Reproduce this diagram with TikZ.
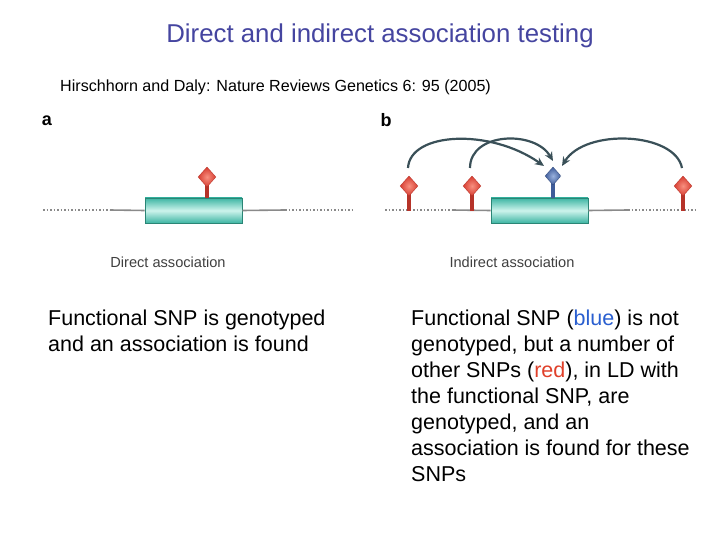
\documentclass[tikz,border=0pt]{standalone}
\usepackage{fontspec}
\setmainfont{Liberation Sans}
\usetikzlibrary{shapes.geometric,arrows.meta}
\definecolor{titleblue}{HTML}{4545A0}
\definecolor{snpred}{HTML}{D63C30}
\definecolor{snpredin}{HTML}{F89080}
\definecolor{snpblue}{HTML}{3F5C9A}
\definecolor{snpbluein}{HTML}{9AB2DE}
\definecolor{genetop}{HTML}{3DB5A3}
\definecolor{genemid}{HTML}{CDF3EC}
\definecolor{geneedge}{HTML}{2A8575}
\definecolor{arcol}{HTML}{3A5058}
\definecolor{linegray}{HTML}{8A8A8A}
\definecolor{txtblue}{HTML}{2A5FD0}
\definecolor{txtred}{HTML}{E0402A}
\tikzset{
  genebox/.style={draw=geneedge, line width=0.8pt, minimum width=97pt, minimum height=25pt, inner sep=0pt,
    top color=genetop, bottom color=genetop, middle color=genemid},
  reddia/.style={diamond, inner sep=0pt, minimum width=18pt, minimum height=20pt, draw=snpred!85!black, line width=0.3pt,
    inner color=snpredin, outer color=snpred},
  bluedia/.style={diamond, inner sep=0pt, minimum width=16pt, minimum height=18pt, draw=snpblue!80!black, line width=0.3pt,
    inner color=snpbluein, outer color=snpblue},
  redstem/.style={draw=snpred!85!black, line width=4pt},
  bluestem/.style={draw=snpblue, line width=4pt},
  dotline/.style={draw=linegray, line width=1.2pt, dash pattern=on 1.5pt off 2pt},
  solidline/.style={draw=linegray, line width=1.6pt},
  ldarrow/.style={draw=arcol, line width=2.2pt, -{Stealth[length=9pt,width=8pt]}},
  capt/.style={font=\fontsize{14.6}{17}\selectfont, text=black!75},
  body/.style={font=\fontsize{21.5}{26}\selectfont, align=left, anchor=north west, inner sep=0pt},
  panel/.style={font=\fontsize{18}{20}\selectfont\bfseries}
}
\begin{document}
\begin{tikzpicture}[x=1pt,y=-1pt]
\useasboundingbox (0,0) rectangle (720,540);
\fill[white] (0,0) rectangle (720,540);
\node[font=\fontsize{25.8}{30}\selectfont, text=titleblue, anchor=base] (title) at (380,43) {Direct and indirect association testing};
\node[font=\fontsize{16.1}{19}\selectfont, anchor=west, inner sep=0pt] (cite) at (60,87) {Hirschhorn and Daly: Nature Reviews Genetics 6: 95 (2005)};
\node[panel] (pa) at (47,121) {a};
\node[panel] (pb) at (386,120) {b};

% panel a
\coordinate (a1) at (43,210); \coordinate (a2) at (110,210);
\coordinate (a3) at (285,210); \coordinate (a4) at (352,210);
\draw[dotline] (a1) -- (a2);
\draw[dotline] (a3) -- (a4);
\node[genebox] (ga) at (193.5,210.5) {};
\draw[solidline] (a2) -- (ga.west);
\draw[solidline] (ga.east) -- (a3);
\coordinate (sapos) at (207,177);
\draw[redstem] (sapos) -- (sapos |- ga.north);
\node[reddia] (sa) at (sapos) {};
\node[capt] (capa) at (168,262) {Direct association};

% panel b
\coordinate (b1) at (385,210); \coordinate (b2) at (452,210);
\coordinate (b3) at (628,210); \coordinate (b4) at (695,210);
\draw[dotline] (b1) -- (b2);
\draw[dotline] (b3) -- (b4);
\node[genebox] (gb) at (539.5,210.5) {};
\draw[solidline] (b2) -- (gb.west);
\draw[solidline] (gb.east) -- (b3);
\coordinate (r1p) at (409,186); \coordinate (r2p) at (472,186); \coordinate (r3p) at (683,186);
\coordinate (r1b) at (409,211); \coordinate (r2b) at (472,211); \coordinate (r3b) at (683,211);
\draw[redstem] (r1p) -- (r1b);
\draw[redstem] (r2p) -- (r2b);
\draw[redstem] (r3p) -- (r3b);
\node[reddia] (r1) at (r1p) {};
\node[reddia] (r2) at (r2p) {};
\node[reddia] (r3) at (r3p) {};
\coordinate (blp) at (553,176);
\draw[bluestem] (blp) -- (blp |- gb.north);
\node[bluedia] (bl) at (blp) {};

\coordinate (s1) at (408,168); \coordinate (e1) at (544,166);
\coordinate (s2) at (470,168); \coordinate (e2) at (553,161);
\coordinate (s3) at (682,168); \coordinate (e3) at (562,166);
\draw[ldarrow] (s1) .. controls (410,132) and (490,128) .. (e1);
\draw[ldarrow] (s2) .. controls (470,132) and (535,130) .. (e2);
\draw[ldarrow] (s3) .. controls (675,132) and (585,128) .. (e3);
\node[capt] (capb) at (512,262) {Indirect association};

% text
\node[body] (ta) at (48,310) {Functional SNP is genotyped\\and an association is found};
\node[body] (tb) at (411,310) {Functional SNP (\textcolor{txtblue}{blue}) is not\\genotyped, but a number of\\other SNPs (\textcolor{txtred}{red}), in LD with\\the functional SNP, are\\genotyped, and an\\association is found for these\\SNPs};
\end{tikzpicture}
\end{document}
